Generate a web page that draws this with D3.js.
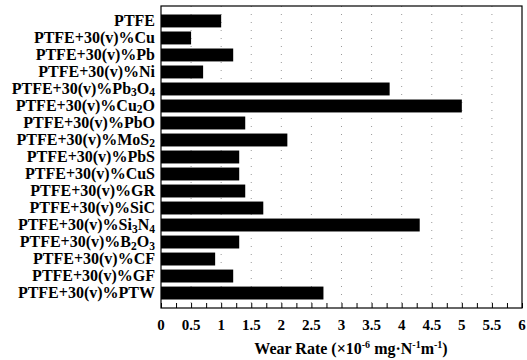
<!DOCTYPE html>
<html>
<head>
<meta charset="utf-8">
<script src="https://cdn.jsdelivr.net/npm/d3@7"></script>
<style>
  body { margin: 0; background: #fff; }
  text { font-family: "Liberation Serif", "Times New Roman", serif; font-weight: bold; }
</style>
</head>
<body>
<svg width="527" height="360"></svg>
<script>
// label parts: [text, "sub"] pieces
const categories = [
    [["PTFE"]],
    [["PTFE+30(v)%Cu"]],
    [["PTFE+30(v)%Pb"]],
    [["PTFE+30(v)%Ni"]],
    [["PTFE+30(v)%Pb"], ["3", "sub"], ["O"], ["4", "sub"]],
    [["PTFE+30(v)%Cu"], ["2", "sub"], ["O"]],
    [["PTFE+30(v)%PbO"]],
    [["PTFE+30(v)%MoS"], ["2", "sub"]],
    [["PTFE+30(v)%PbS"]],
    [["PTFE+30(v)%CuS"]],
    [["PTFE+30(v)%GR"]],
    [["PTFE+30(v)%SiC"]],
    [["PTFE+30(v)%Si"], ["3", "sub"], ["N"], ["4", "sub"]],
    [["PTFE+30(v)%B"], ["2", "sub"], ["O"], ["3", "sub"]],
    [["PTFE+30(v)%CF"]],
    [["PTFE+30(v)%GF"]],
    [["PTFE+30(v)%PTW"]]
];
const wearRate = [1.0, 0.5, 1.2, 0.7, 3.8, 5.0, 1.4, 2.1, 1.3, 1.3, 1.4, 1.7, 4.3, 1.3, 0.9, 1.2, 2.7];
const xTicks = [0, 0.5, 1, 1.5, 2, 2.5, 3, 3.5, 4, 4.5, 5, 5.5, 6];

const svg = d3.select("svg");
const plotL = 161, plotR = 522, plotT = 6, plotB = 308;

const x = d3.scaleLinear().domain([0, 6]).range([plotL, plotR]);
const y = d3.scaleBand()
    .domain(d3.range(categories.length))
    .range([plotT, plotB])
    .paddingInner(0.24)
    .paddingOuter(0.5);

// dotted grid
svg.append("g").selectAll("line")
    .data(xTicks.slice(1, -1))
    .join("line")
    .attr("x1", d => x(d)).attr("x2", d => x(d))
    .attr("y1", plotT).attr("y2", plotB)
    .attr("stroke", "#999")
    .attr("stroke-width", 1)
    .attr("stroke-dasharray", "1,7");

// bars
svg.append("g").selectAll("rect")
    .data(wearRate)
    .join("rect")
    .attr("x", x(0))
    .attr("y", (d, i) => y(i))
    .attr("width", d => x(d) - x(0))
    .attr("height", y.bandwidth())
    .attr("fill", "#000");

// frame
svg.append("rect")
    .attr("x", plotL).attr("y", plotT)
    .attr("width", plotR - plotL).attr("height", plotB - plotT)
    .attr("fill", "none").attr("stroke", "#000").attr("stroke-width", 1.2);

// bottom axis, inward ticks
const minor = d3.range(0, 6.001, 0.25);
const xAxis = d3.axisBottom(x).tickValues(minor).tickSize(-5).tickFormat("");
svg.append("g")
    .attr("transform", `translate(0,${plotB})`)
    .call(xAxis)
    .call(g => g.select(".domain").remove())
    .call(g => g.selectAll("line").attr("stroke", "#000"));

svg.append("g").selectAll("text")
    .data(xTicks)
    .join("text")
    .attr("x", d => x(d))
    .attr("y", 330)
    .attr("text-anchor", "middle")
    .attr("font-size", 15)
    .text(d => d);

// category labels
const labels = svg.append("g").selectAll("text")
    .data(categories)
    .join("text")
    .attr("x", 155)
    .attr("y", (d, i) => y(i) + y.bandwidth() / 2 + 5)
    .attr("text-anchor", "end")
    .attr("font-size", 16);

labels.each(function (parts) {
    const t = d3.select(this);
    let shifted = false;
    parts.forEach(p => {
        const s = t.append("tspan").text(p[0]);
        if (p[1] === "sub") {
            s.attr("font-size", 11.5).attr("dy", shifted ? 0 : 2.5);
            shifted = true;
        } else if (shifted) {
            s.attr("dy", -2.5);
            shifted = false;
        }
    });
});

// axis title
const title = svg.append("text")
    .attr("x", 351)
    .attr("y", 354)
    .attr("text-anchor", "middle")
    .attr("font-size", 16);
title.append("tspan").text("Wear Rate (×10");
title.append("tspan").text("-6").attr("font-size", 10).attr("dy", -6);
title.append("tspan").text(" mg·N").attr("dy", 6);
title.append("tspan").text("-1").attr("font-size", 10).attr("dy", -6);
title.append("tspan").text("m").attr("dy", 6);
title.append("tspan").text("-1").attr("font-size", 10).attr("dy", -6);
title.append("tspan").text(")").attr("dy", 6);
</script>
</body>
</html>
